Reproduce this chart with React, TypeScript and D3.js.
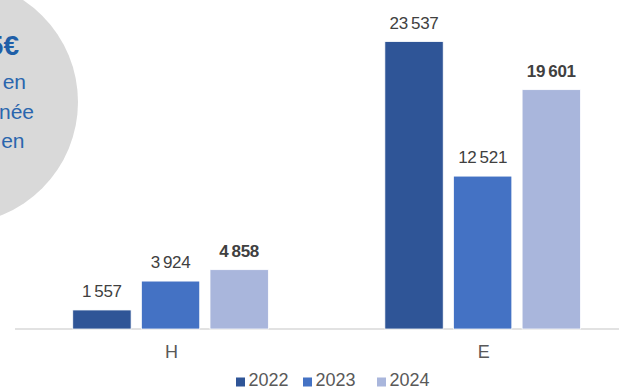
import React from "react";
import * as d3 from "d3";

const categories = ["H", "E"];
const seriesNames = ["2022", "2023", "2024"];
const values2022 = [1557, 23537];
const values2023 = [3924, 12521];
const values2024 = [4858, 19601];
const seriesValues = [values2022, values2023, values2024];
const colors = ["#2F5597", "#4472C4", "#A9B6DC"];
const boldSeries = [false, false, true];
const circleLines = ["5€", "en", "née", "en"];

const W = 619;
const H = 387;
const FONT = "'Liberation Sans', Arial, sans-serif";

const fr = d3.formatLocale({ decimal: ",", thousands: "\u2009", grouping: [3], currency: ["", "€"] });
const fmt = fr.format(",d");

export default function App() {
  const x0 = d3.scaleBand<string>().domain(categories).range([14.5, 638.7]).paddingInner(0).paddingOuter(0);
  const x1 = d3
    .scaleBand<string>()
    .domain(seriesNames)
    .range([0, x0.bandwidth()])
    .paddingInner(0.15)
    .paddingOuter(0.849);
  const y = d3.scaleLinear().domain([0, 25000]).range([329, 23.75]);
  const legendX = [236, 303, 377];

  return (
    <svg
      width={W}
      height={H}
      style={{ position: "absolute", left: 0, top: 0, background: "#fff" }}
      fontFamily={FONT}
    >
      <rect width={W} height={H} fill="#fff" />
      <circle cx={-44} cy={102} r={122} fill="#D9D9D9" />
      <text x={19} y={55} textAnchor="end" fill="#1F5FA8" fontSize={28} fontWeight="bold">
        {circleLines[0]}
      </text>
      <text x={26} y={89} textAnchor="end" fill="#2A66AE" fontSize={21}>
        {circleLines[1]}
      </text>
      <text x={34} y={118.5} textAnchor="end" fill="#2A66AE" fontSize={21}>
        {circleLines[2]}
      </text>
      <text x={24.5} y={148} textAnchor="end" fill="#2A66AE" fontSize={21}>
        {circleLines[3]}
      </text>

      <line x1={15} x2={619} y1={329} y2={329} stroke="#D9D9D9" strokeWidth={1.5} />

      {categories.map((c, ci) => (
        <g key={c} transform={`translate(${x0(c)},0)`}>
          {seriesNames.map((s, si) => {
            const v = seriesValues[si][ci];
            const bx = x1(s)!;
            return (
              <g key={s}>
                <rect
                  x={bx}
                  y={y(v)}
                  width={x1.bandwidth()}
                  height={y(0) - y(v)}
                  fill={colors[si]}
                  stroke="#fff"
                  strokeWidth={0.75}
                />
                <text
                  x={bx + x1.bandwidth() / 2}
                  y={y(v) - 13}
                  textAnchor="middle"
                  fontSize={17}
                  fontWeight={boldSeries[si] ? "bold" : "normal"}
                  fill="#404040"
                  letterSpacing={-0.3}
                >
                  {fmt(v)}
                </text>
              </g>
            );
          })}
          <text x={x0.bandwidth() / 2 + 1} y={357.5} textAnchor="middle" fontSize={18} fill="#595959">
            {c}
          </text>
        </g>
      ))}

      {seriesNames.map((s, i) => (
        <g key={s}>
          <rect x={legendX[i]} y={377.5} width={9} height={9} fill={colors[i]} />
          <text x={legendX[i] + 12.5} y={386} fontSize={18} fill="#595959">
            {s}
          </text>
        </g>
      ))}
    </svg>
  );
}
